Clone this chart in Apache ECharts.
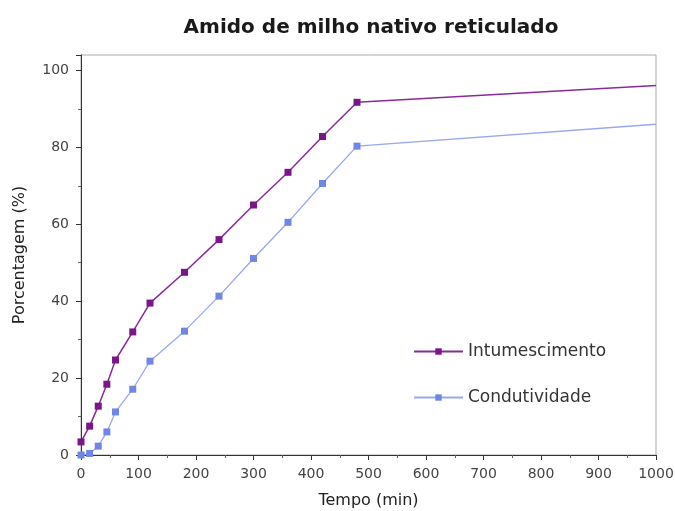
<!DOCTYPE html>
<html>
<head>
<meta charset="utf-8">
<script src="https://cdn.jsdelivr.net/npm/echarts@6/dist/echarts.min.js"></script>
<style>html,body{margin:0;padding:0;background:#fff}#c{width:675px;height:511px}</style>
</head>
<body>
<div id="c"></div>
<script>
const tempo = [0, 15, 30, 45, 60, 90, 120, 180, 240, 300, 360, 420, 480, 1000];
const intumescimento = [3.4, 7.5, 12.7, 18.4, 24.7, 32, 39.5, 47.5, 56, 65, 73.5, 82.8, 91.7, 96.1];
const condutividade = [0, 0.4, 2.3, 6, 11.2, 17.1, 24.4, 32.2, 41.3, 51.1, 60.5, 70.6, 80.3, 86];
const seriesNames = ['Intumescimento', 'Condutividade'];

function toData(vals) {
  return tempo.map((t, i) => {
    const item = { value: [t, vals[i]] };
    if (i === tempo.length - 1) item.symbol = 'none';
    return item;
  });
}

const chart = echarts.init(document.getElementById('c'));
const font = 'DejaVu Sans, sans-serif';
chart.setOption({
  animation: false,
  backgroundColor: '#fff',
  title: {
    text: 'Amido de milho nativo reticulado',
    left: 366, top: 13, textAlign: 'center',
    textStyle: { fontFamily: font, fontSize: 20, fontWeight: 'bold', color: '#1a1a1a' }
  },
  grid: { left: 81, right: 19, top: 55, bottom: 56, show: true, borderColor: '#aaa', borderWidth: 1,
    containLabel: false, outerBoundsMode: 'none' },
  legend: {
    orient: 'vertical', left: 408, top: 338, itemGap: 29, itemWidth: 49, itemHeight: 8,
    data: seriesNames,
    textStyle: { fontFamily: font, fontSize: 17, color: '#333' }
  },
  xAxis: {
    type: 'value', min: 0, max: 1000, interval: 100,
    name: 'Tempo (min)', nameLocation: 'middle', nameGap: 38,
    nameTextStyle: { fontFamily: font, fontSize: 16, color: '#222' },
    axisLine: { show: true, onZero: false, lineStyle: { color: '#333', width: 1 } },
    axisTick: { show: true, length: 5, lineStyle: { color: '#333' } },
    minorTick: { show: true, splitNumber: 2, length: 3, lineStyle: { color: '#666' } },
    splitLine: { show: false },
    axisLabel: { fontFamily: font, fontSize: 14, color: '#444', margin: 12, formatter: v => String(v) }
  },
  yAxis: {
    type: 'value', min: 0, max: 104, interval: 20,
    name: 'Porcentagem (%)', nameLocation: 'middle', nameGap: 53, nameRotate: 90,
    nameTextStyle: { fontFamily: font, fontSize: 16, color: '#222' },
    axisLine: { show: true, lineStyle: { color: '#333', width: 1 } },
    axisTick: { show: true, length: 5, lineStyle: { color: '#333' } },
    minorTick: { show: true, splitNumber: 2, length: 3, lineStyle: { color: '#666' } },
    splitLine: { show: false },
    axisLabel: { fontFamily: font, fontSize: 14, color: '#444', margin: 12,
      formatter: v => (v % 20 === 0 ? String(v) : '') }
  },
  series: [
    {
      name: seriesNames[0], type: 'line',
      data: toData(intumescimento),
      symbol: 'rect', symbolSize: 7,
      lineStyle: { color: '#8a2a9a', width: 1.5 },
      itemStyle: { color: '#7a168a' }
    },
    {
      name: seriesNames[1], type: 'line',
      data: toData(condutividade),
      symbol: 'rect', symbolSize: 7,
      lineStyle: { color: '#98a8ee', width: 1.3 },
      itemStyle: { color: '#6f86e4' }
    }
  ]
});
</script>
</body>
</html>
